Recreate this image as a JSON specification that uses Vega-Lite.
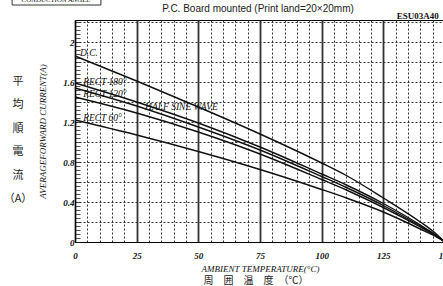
{
  "$schema": "https://vega.github.io/schema/vega-lite/v6.json",
  "width": 370,
  "height": 222,
  "autosize": {"type": "none"},
  "padding": {"left": 75, "top": 20, "right": 0, "bottom": 44},
  "background": "white",
  "config": {"view": {"stroke": "black", "strokeWidth": 1}},
  "datasets": {
    "curves": [
      {"s": "DC", "t": 0, "i": 1.86}, {"s": "DC", "t": 25, "i": 1.61}, {"s": "DC", "t": 50, "i": 1.35}, {"s": "DC", "t": 75, "i": 1.08}, {"s": "DC", "t": 100, "i": 0.79}, {"s": "DC", "t": 110, "i": 0.665}, {"s": "DC", "t": 125, "i": 0.44}, {"s": "DC", "t": 140, "i": 0.20}, {"s": "DC", "t": 145, "i": 0.11}, {"s": "DC", "t": 150, "i": 0},
      {"s": "R180", "t": 0, "i": 1.59}, {"s": "R180", "t": 25, "i": 1.40}, {"s": "R180", "t": 50, "i": 1.19}, {"s": "R180", "t": 75, "i": 0.95}, {"s": "R180", "t": 100, "i": 0.68}, {"s": "R180", "t": 110, "i": 0.57}, {"s": "R180", "t": 125, "i": 0.385}, {"s": "R180", "t": 140, "i": 0.17}, {"s": "R180", "t": 145, "i": 0.09}, {"s": "R180", "t": 150, "i": 0},
      {"s": "HS", "t": 0, "i": 1.54}, {"s": "HS", "t": 25, "i": 1.36}, {"s": "HS", "t": 50, "i": 1.15}, {"s": "HS", "t": 75, "i": 0.92}, {"s": "HS", "t": 100, "i": 0.655}, {"s": "HS", "t": 110, "i": 0.545}, {"s": "HS", "t": 125, "i": 0.365}, {"s": "HS", "t": 140, "i": 0.16}, {"s": "HS", "t": 145, "i": 0.085}, {"s": "HS", "t": 150, "i": 0},
      {"s": "R120", "t": 0, "i": 1.45}, {"s": "R120", "t": 25, "i": 1.29}, {"s": "R120", "t": 50, "i": 1.10}, {"s": "R120", "t": 75, "i": 0.88}, {"s": "R120", "t": 100, "i": 0.625}, {"s": "R120", "t": 110, "i": 0.52}, {"s": "R120", "t": 125, "i": 0.345}, {"s": "R120", "t": 140, "i": 0.15}, {"s": "R120", "t": 145, "i": 0.08}, {"s": "R120", "t": 150, "i": 0},
      {"s": "R60", "t": 0, "i": 1.22}, {"s": "R60", "t": 25, "i": 1.07}, {"s": "R60", "t": 50, "i": 0.905}, {"s": "R60", "t": 75, "i": 0.725}, {"s": "R60", "t": 100, "i": 0.525}, {"s": "R60", "t": 110, "i": 0.44}, {"s": "R60", "t": 125, "i": 0.30}, {"s": "R60", "t": 140, "i": 0.13}, {"s": "R60", "t": 145, "i": 0.07}, {"s": "R60", "t": 150, "i": 0}
    ],
    "labels": [
      {"t": 2, "i": 1.89, "label": "D.C."},
      {"t": 3.3, "i": 1.60, "label": "RECT 180°"},
      {"t": 3.3, "i": 1.48, "label": "RECT 120°"},
      {"t": 28.4, "i": 1.35, "label": "HALF SINE WAVE"},
      {"t": 3.3, "i": 1.24, "label": "RECT 60°"}
    ],
    "code": [{"t": 139, "i": 2.26, "label": "ESU03A40"}],
    "head": [{"t": 74.2, "i": 2.33, "label": "P.C. Board mounted (Print land=20×20mm)"}],
    "jx": [{"t": 73.4, "i": -0.39, "label": "周　囲　温　度　（℃）"}],
    "jy": [{"t": -23.1, "i": 1.60, "label": "平\n均\n順\n電\n流\n（A）"}],
    "box": [{"t": -25.5, "t2": 10.5, "i": 2.37, "i2": 2.43}],
    "boxtext": [{"t": -7.7, "i": 2.425, "label": "CONDUCTION ANGLE"}]
  },
  "encoding": {
    "x": {"field": "t", "type": "quantitative", "scale": {"domain": [0, 150], "nice": false},
      "axis": {
        "values": [0,5,10,15,20,25,30,35,40,45,50,55,60,65,70,75,80,85,90,95,100,105,110,115,120,125,130,135,140,145,150],
        "labelExpr": "datum.value % 25 === 0 ? datum.label : ''",
        "labelOverlap": false, "labelFlush": false,
        "ticks": false,
        "labelFont": "Liberation Sans Narrow", "labelFontStyle": "italic", "labelFontWeight": "bold", "labelFontSize": 9, "labelColor": "#111", "labelPadding": 9,
        "domainColor": "black",
        "grid": true,
        "gridColor": "#333",
        "gridDash": {"condition": {"test": "datum.value % 25 === 0", "value": [1, 0]}, "value": [2, 2]},
        "gridWidth": {"condition": {"test": "datum.value % 25 === 0", "value": 1.8}, "value": 1},
        "title": "AMBIENT TEMPERATURE(°C)", "titleFont": "Liberation Sans Narrow", "titleFontStyle": "italic", "titleFontWeight": "normal", "titleFontSize": 9, "titleColor": "#111", "titlePadding": 4
      }
    },
    "y": {"field": "i", "type": "quantitative", "scale": {"domain": [0, 2.22], "nice": false},
      "axis": {
        "values": [0,0.04,0.08,0.12,0.16,0.2,0.24,0.28,0.32,0.36,0.4,0.44,0.48,0.52,0.56,0.6,0.64,0.68,0.72,0.76,0.8,0.84,0.88,0.92,0.96,1,1.04,1.08,1.12,1.16,1.2,1.24,1.28,1.32,1.36,1.4,1.44,1.48,1.52,1.56,1.6,1.64,1.68,1.72,1.76,1.8,1.84,1.88,1.92,1.96,2,2.04,2.08,2.12,2.16,2.2],
        "labelExpr": "abs(datum.value*2.5 - round(datum.value*2.5)) < 0.001 ? format(datum.value, '.1~f') : ''",
        "labelOverlap": false, "labelFlush": false,
        "tickSize": -5, "tickColor": "#222", "tickWidth": 0.8,
        "labelFont": "Liberation Sans Narrow", "labelFontStyle": "italic", "labelFontWeight": "bold", "labelFontSize": 9, "labelColor": "#111", "labelPadding": 6,
        "domainColor": "black",
        "grid": true, "gridColor": "#333", "gridDash": [2, 2], "gridWidth": 1,
        "gridOpacity": {"condition": {"test": "abs(datum.value*5 - round(datum.value*5)) < 0.001", "value": 1}, "value": 0},
        "title": "AVERAGEFORWARD CURRENT(A)", "titleFont": "Liberation Sans Narrow", "titleFontStyle": "italic", "titleFontWeight": "normal", "titleFontSize": 9, "titleColor": "#111", "titlePadding": 15
      }
    }
  },
  "layer": [
    {
      "data": {"name": "curves"},
      "mark": {"type": "line", "interpolate": "monotone", "color": "#111", "strokeWidth": 1.4},
      "encoding": {"detail": {"field": "s"}}
    },
    {
      "data": {"name": "labels"},
      "mark": {"type": "text", "align": "left", "baseline": "middle", "font": "Liberation Sans Narrow", "fontStyle": "italic", "fontSize": 9.5, "color": "#111"},
      "encoding": {"text": {"field": "label"}}
    },
    {
      "data": {"name": "code"},
      "mark": {"type": "text", "align": "center", "baseline": "middle", "font": "Liberation Sans Narrow", "fontWeight": "bold", "fontSize": 9, "color": "#111"},
      "encoding": {"text": {"field": "label"}}
    },
    {
      "data": {"name": "head"},
      "mark": {"type": "text", "align": "center", "baseline": "middle", "font": "Liberation Sans", "fontSize": 10, "color": "#222"},
      "encoding": {"text": {"field": "label"}}
    },
    {
      "data": {"name": "jx"},
      "mark": {"type": "text", "align": "center", "baseline": "middle", "font": "Noto Sans CJK JP", "fontSize": 10, "color": "#222"},
      "encoding": {"text": {"field": "label"}}
    },
    {
      "data": {"name": "jy"},
      "mark": {"type": "text", "align": "center", "baseline": "middle", "lineBreak": "\n", "lineHeight": 23.4, "font": "Noto Sans CJK JP", "fontSize": 11, "color": "#222"},
      "encoding": {"text": {"field": "label"}}
    },
    {
      "data": {"name": "box"},
      "mark": {"type": "rect", "fill": "white", "stroke": "#333", "strokeWidth": 1},
      "encoding": {"x2": {"field": "t2"}, "y2": {"field": "i2"}}
    },
    {
      "data": {"name": "boxtext"},
      "mark": {"type": "text", "align": "center", "baseline": "middle", "font": "Liberation Sans Narrow", "fontStyle": "italic", "fontSize": 7, "color": "#111"},
      "encoding": {"text": {"field": "label"}}
    }
  ]
}
